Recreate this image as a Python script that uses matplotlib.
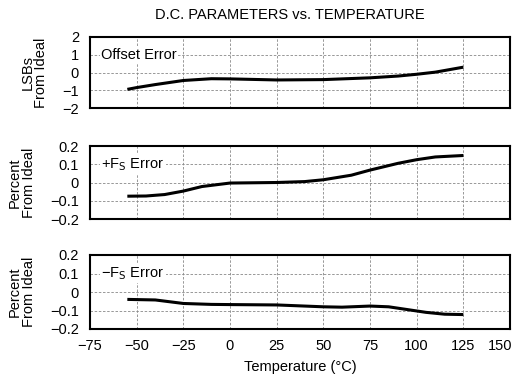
import numpy as np
import matplotlib
matplotlib.use("Agg")
import matplotlib.pyplot as plt
from matplotlib.transforms import ScaledTranslation

plt.rcParams['font.family'] = ['Liberation Sans', 'DejaVu Sans']

# temperatures (deg C)
temp_off = [-55, -50, -40, -25, -10, 0, 25, 50, 75, 90, 100, 110, 125]
offset_err = [-0.95, -0.85, -0.68, -0.45, -0.35, -0.36, -0.42, -0.40, -0.30, -0.20, -0.10, 0.02, 0.30]

temp_pfs = [-55, -45, -35, -25, -15, 0, 25, 40, 50, 65, 75, 90, 100, 110, 125]
pfs_err = [-0.075, -0.074, -0.066, -0.047, -0.022, -0.003, 0.0, 0.005, 0.015, 0.04, 0.068, 0.105, 0.125, 0.14, 0.148]

temp_nfs = [-55, -40, -25, -10, 0, 25, 50, 60, 75, 85, 95, 105, 115, 125]
nfs_err = [-0.04, -0.043, -0.062, -0.067, -0.068, -0.07, -0.08, -0.082, -0.076, -0.08, -0.095, -0.11, -0.12, -0.122]

xticks = [-75, -50, -25, 0, 25, 50, 75, 100, 125, 150]
xtick_labels = ['\u221275', '\u221250', '\u221225', '0', '25', '50', '75', '100', '125', '150']

fig = plt.figure(figsize=(5.18, 3.79), dpi=100)
W, H = 518, 379
fs = 10.5

def make_ax(top, bottom):
    return fig.add_axes([90 / W, 1 - bottom / H, 420 / W, (bottom - top) / H])

panels = [
    (make_ax(37, 108), temp_off, offset_err, (-2, 2), [-2, -1, 0, 1, 2],
     ['\u22122', '\u22121', '0', '1', '2'], 'Offset Error', 'LSBs\nFrom Ideal'),
    (make_ax(146, 219), temp_pfs, pfs_err, (-0.2, 0.2), [-0.2, -0.1, 0, 0.1, 0.2],
     ['\u22120.2', '\u22120.1', '0', '0.1', '0.2'], '+F$_{\\rm S}$ Error', 'Percent\nFrom Ideal'),
    (make_ax(255, 329), temp_nfs, nfs_err, (-0.2, 0.2), [-0.2, -0.1, 0, 0.1, 0.2],
     ['\u22120.2', '\u22120.1', '0', '0.1', '0.2'], '\u2212F$_{\\rm S}$ Error', 'Percent\nFrom Ideal'),
]

for i, (ax, x, y, ylim, yt, ytl, label, ylab) in enumerate(panels):
    ax.plot(x, y, color='black', lw=2.2, solid_capstyle='butt', zorder=3)
    ax.set_xlim(-75, 150)
    ax.set_ylim(*ylim)
    ax.set_xticks(xticks)
    ax.set_yticks(yt)
    ax.set_yticklabels(ytl, fontsize=fs)
    ax.grid(True, color='#888888', lw=0.6, ls=(0, (3, 2)))
    ax.tick_params(length=0)
    ax.tick_params(axis='y', pad=8)
    ax.tick_params(axis='x', pad=7)
    for s in ax.spines.values():
        s.set_linewidth(1.5)
    ax.text(-69, yt[3], label, fontsize=fs, va='center', ha='left',
            bbox=dict(facecolor='white', edgecolor='none', pad=1), zorder=4)
    ax.set_ylabel(ylab, fontsize=fs, labelpad=10, linespacing=1.0)
    if i < 2:
        ax.set_xticklabels([])
    else:
        ax.set_xticklabels(xtick_labels, fontsize=fs)
        ax.set_xlabel('Temperature (\u00b0C)', fontsize=fs, labelpad=5)
        # nudge "150" left so it stays inside the picture
        last = ax.get_xticklabels()[-1]
        last.set_transform(last.get_transform() + ScaledTranslation(-10 / 100, 0, fig.dpi_scale_trans))

fig.text(0.56, 1 - 15 / H, 'D.C. PARAMETERS vs. TEMPERATURE', fontsize=fs, ha='center', va='center')

fig.savefig('out.png', dpi=100)
